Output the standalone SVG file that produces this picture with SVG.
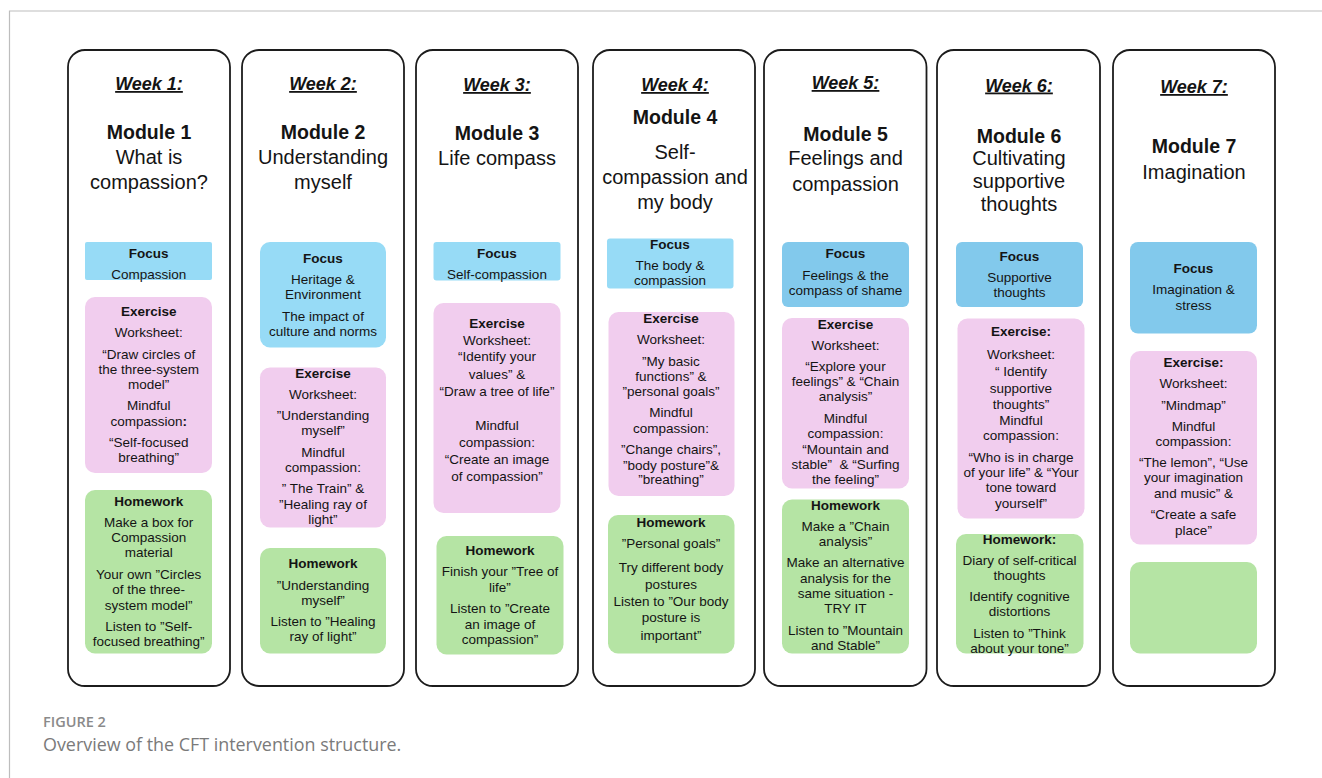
<svg xmlns="http://www.w3.org/2000/svg" width="1322" height="778" viewBox="0 0 1322 778">
  <style>
    text { font-family: "Liberation Sans", Arial, sans-serif; fill: #141414; text-anchor: middle; }
    .col { fill: #fff; stroke: #1c1c1c; stroke-width: 1.8; }
    .focus { fill: #97dbf6; }
    .focus2 { fill: #82c9ec; }
    .ex { fill: #f1cdee; }
    .hw { fill: #b5e4a4; }
    .wk { font-size: 18px; font-weight: bold; font-style: italic; text-decoration: underline; }
    .mod { font-size: 19.5px; font-weight: bold; }
    .sub { font-size: 20px; }
    .hd { font-size: 13.5px; font-weight: bold; }
    .tx { font-size: 13.5px; }
    .cap1 { font-family: "Open Sans", "Liberation Sans", sans-serif; font-size: 14.5px; font-weight: 600; fill: #8a8a8a; text-anchor: start; }
    .cap2 { font-family: "Open Sans", "Liberation Sans", sans-serif; font-size: 17.9px; fill: #7a7a7a; text-anchor: start; }
    .frame { fill: none; stroke: #bdbdbd; stroke-width: 1.2; }
  </style>

  <!-- page frame -->
  <path class="frame" d="M9.5 778 V11 H1322"/>

  <!-- Week 1 -->
  <g id="week1">
    <rect class="col" x="68" y="50" width="162" height="636" rx="17"/>
    <text class="wk" x="149" y="90">Week 1:</text>
    <text class="mod" x="149" y="139">Module 1</text>
    <text class="sub" x="149" y="164">What is</text>
    <text class="sub" x="149" y="189">compassion?</text>
    <rect class="focus" x="85" y="242" width="127" height="38" rx="2"/>
    <text class="hd" x="148.7" y="258">Focus</text>
    <text class="tx" x="148.7" y="278.5">Compassion</text>
    <rect class="ex" x="85" y="297" width="127" height="176" rx="10"/>
    <text class="hd" x="148.7" y="315.5">Exercise</text>
    <text class="tx" x="148.7" y="337">Worksheet:</text>
    <text class="tx" x="148.7" y="358.5">“Draw circles of</text>
    <text class="tx" x="148.7" y="373.5">the three-system</text>
    <text class="tx" x="148.7" y="389">model”</text>
    <text class="tx" x="148.7" y="410">Mindful</text>
    <text class="tx" x="148.7" y="425.5">compassion<tspan font-weight="bold">:</tspan></text>
    <text class="tx" x="148.7" y="446.5">“Self-focused</text>
    <text class="tx" x="148.7" y="462">breathing”</text>
    <rect class="hw" x="85" y="490" width="127" height="163.5" rx="10"/>
    <text class="hd" x="148.7" y="505.5">Homework</text>
    <text class="tx" x="148.7" y="527">Make a box for</text>
    <text class="tx" x="148.7" y="542">Compassion</text>
    <text class="tx" x="148.7" y="557">material</text>
    <text class="tx" x="148.7" y="578.5">Your own ”Circles</text>
    <text class="tx" x="148.7" y="594">of the three-</text>
    <text class="tx" x="148.7" y="609.5">system model”</text>
    <text class="tx" x="148.7" y="630.5">Listen to ”Self-</text>
    <text class="tx" x="148.7" y="645.5">focused breathing”</text>
  </g>

  <!-- Week 2 -->
  <g id="week2">
    <rect class="col" x="242" y="50" width="162" height="636" rx="17"/>
    <text class="wk" x="323" y="90">Week 2:</text>
    <text class="mod" x="323" y="139">Module 2</text>
    <text class="sub" x="323" y="164">Understanding</text>
    <text class="sub" x="323" y="189">myself</text>
    <rect class="focus" x="260" y="242" width="126" height="105.5" rx="10"/>
    <text class="hd" x="323" y="263">Focus</text>
    <text class="tx" x="323" y="284">Heritage &amp;</text>
    <text class="tx" x="323" y="299">Environment</text>
    <text class="tx" x="323" y="320.5">The impact of</text>
    <text class="tx" x="323" y="335.5">culture and norms</text>
    <rect class="ex" x="260" y="367.5" width="126" height="160" rx="10"/>
    <text class="hd" x="323" y="378">Exercise</text>
    <text class="tx" x="323" y="398.5">Worksheet:</text>
    <text class="tx" x="323" y="420">”Understanding</text>
    <text class="tx" x="323" y="435">myself”</text>
    <text class="tx" x="323" y="457">Mindful</text>
    <text class="tx" x="323" y="472">compassion:</text>
    <text class="tx" x="323" y="493">” The Train” &amp;</text>
    <text class="tx" x="323" y="508.5">”Healing ray of</text>
    <text class="tx" x="323" y="524">light”</text>
    <rect class="hw" x="260" y="548" width="126" height="105.5" rx="10"/>
    <text class="hd" x="323" y="568">Homework</text>
    <text class="tx" x="323" y="589.5">”Understanding</text>
    <text class="tx" x="323" y="604.5">myself”</text>
    <text class="tx" x="323" y="626">Listen to ”Healing</text>
    <text class="tx" x="323" y="641">ray of light”</text>
  </g>

  <!-- Week 3 -->
  <g id="week3">
    <rect class="col" x="416" y="50" width="162" height="636" rx="17"/>
    <text class="wk" x="497" y="91">Week 3:</text>
    <text class="mod" x="497" y="140">Module 3</text>
    <text class="sub" x="497" y="165">Life compass</text>
    <rect class="focus" x="433.5" y="242" width="127" height="38.5" rx="3"/>
    <text class="hd" x="497" y="258">Focus</text>
    <text class="tx" x="497" y="279">Self-compassion</text>
    <rect class="ex" x="433.5" y="303" width="127" height="210" rx="10"/>
    <text class="hd" x="497" y="328">Exercise</text>
    <text class="tx" x="497" y="344.5">Worksheet:</text>
    <text class="tx" x="497" y="361">“Identify your</text>
    <text class="tx" x="497" y="378.5">values” &amp;</text>
    <text class="tx" x="497" y="395.5">“Draw a tree of life”</text>
    <text class="tx" x="497" y="429.5">Mindful</text>
    <text class="tx" x="497" y="447">compassion:</text>
    <text class="tx" x="497" y="463.5">“Create an image</text>
    <text class="tx" x="497" y="480.5">of compassion”</text>
    <rect class="hw" x="436.5" y="536" width="127" height="118.5" rx="10"/>
    <text class="hd" x="500" y="555">Homework</text>
    <text class="tx" x="500" y="576">Finish your ”Tree of</text>
    <text class="tx" x="500" y="592">life”</text>
    <text class="tx" x="500" y="613">Listen to ”Create</text>
    <text class="tx" x="500" y="628.5">an image of</text>
    <text class="tx" x="500" y="643.5">compassion”</text>
  </g>

  <!-- Week 4 -->
  <g id="week4">
    <rect class="col" x="593" y="50" width="162" height="636" rx="17"/>
    <text class="wk" x="675" y="91">Week 4:</text>
    <text class="mod" x="675" y="124">Module 4</text>
    <text class="sub" x="675" y="158.5">Self-</text>
    <text class="sub" x="675" y="183.5">compassion and</text>
    <text class="sub" x="675" y="209">my body</text>
    <rect class="focus" x="607" y="238.5" width="126.5" height="50" rx="3"/>
    <text class="hd" x="670" y="249">Focus</text>
    <text class="tx" x="670" y="270">The body &amp;</text>
    <text class="tx" x="670" y="284.5">compassion</text>
    <rect class="ex" x="608.5" y="312" width="126" height="184" rx="10"/>
    <text class="hd" x="671" y="323">Exercise</text>
    <text class="tx" x="671" y="344">Worksheet:</text>
    <text class="tx" x="671" y="365.5">”My basic</text>
    <text class="tx" x="671" y="380.5">functions” &amp;</text>
    <text class="tx" x="671" y="396">”personal goals”</text>
    <text class="tx" x="671" y="417">Mindful</text>
    <text class="tx" x="671" y="433">compassion:</text>
    <text class="tx" x="671" y="454">”Change chairs”,</text>
    <text class="tx" x="671" y="469.5">”body posture”&amp;</text>
    <text class="tx" x="671" y="484">”breathing”</text>
    <rect class="hw" x="608" y="515" width="126.5" height="138.5" rx="10"/>
    <text class="hd" x="671" y="527">Homework</text>
    <text class="tx" x="671" y="548">”Personal goals”</text>
    <text class="tx" x="671" y="572">Try different body</text>
    <text class="tx" x="671" y="588.5">postures</text>
    <text class="tx" x="671" y="605.5">Listen to ”Our body</text>
    <text class="tx" x="671" y="622">posture is</text>
    <text class="tx" x="671" y="639.5">important”</text>
  </g>

  <!-- Week 5 -->
  <g id="week5">
    <rect class="col" x="764" y="50" width="162.5" height="636" rx="17"/>
    <text class="wk" x="845.5" y="89">Week 5:</text>
    <text class="mod" x="845.5" y="140.5">Module 5</text>
    <text class="sub" x="845.5" y="165">Feelings and</text>
    <text class="sub" x="845.5" y="190.5">compassion</text>
    <rect class="focus2" x="782" y="242" width="127" height="65" rx="6"/>
    <text class="hd" x="845.5" y="258">Focus</text>
    <text class="tx" x="845.5" y="279.5">Feelings &amp; the</text>
    <text class="tx" x="845.5" y="294.5">compass of shame</text>
    <rect class="ex" x="782" y="318" width="127" height="170.5" rx="10"/>
    <text class="hd" x="845.5" y="328.5">Exercise</text>
    <text class="tx" x="845.5" y="349.5">Worksheet:</text>
    <text class="tx" x="845.5" y="371">“Explore your</text>
    <text class="tx" x="845.5" y="386">feelings” &amp; “Chain</text>
    <text class="tx" x="845.5" y="401">analysis”</text>
    <text class="tx" x="845.5" y="423">Mindful</text>
    <text class="tx" x="845.5" y="438">compassion:</text>
    <text class="tx" x="845.5" y="453.5">“Mountain and</text>
    <text class="tx" x="845.5" y="468.5" xml:space="preserve">stable”  &amp; “Surfing</text>
    <text class="tx" x="845.5" y="483.5">the feeling”</text>
    <rect class="hw" x="782" y="499.5" width="127" height="154" rx="10"/>
    <text class="hd" x="845.5" y="509.5">Homework</text>
    <text class="tx" x="845.5" y="530.5">Make a ”Chain</text>
    <text class="tx" x="845.5" y="546">analysis”</text>
    <text class="tx" x="845.5" y="567">Make an alternative</text>
    <text class="tx" x="845.5" y="583">analysis for the</text>
    <text class="tx" x="845.5" y="598">same situation -</text>
    <text class="tx" x="845.5" y="613">TRY IT</text>
    <text class="tx" x="845.5" y="634.5">Listen to ”Mountain</text>
    <text class="tx" x="845.5" y="649.5">and Stable”</text>
  </g>

  <!-- Week 6 -->
  <g id="week6">
    <rect class="col" x="937" y="50" width="163" height="636" rx="17"/>
    <text class="wk" x="1019" y="91.5">Week 6:</text>
    <text class="mod" x="1019" y="142.5">Module 6</text>
    <text class="sub" x="1019" y="165">Cultivating</text>
    <text class="sub" x="1019" y="188">supportive</text>
    <text class="sub" x="1019" y="211">thoughts</text>
    <rect class="focus2" x="956" y="242" width="127" height="65" rx="6"/>
    <text class="hd" x="1019.5" y="260.5">Focus</text>
    <text class="tx" x="1019.5" y="282">Supportive</text>
    <text class="tx" x="1019.5" y="297">thoughts</text>
    <rect class="ex" x="957.5" y="318.5" width="127" height="200" rx="10"/>
    <text class="hd" x="1021" y="335.5">Exercise:</text>
    <text class="tx" x="1021" y="358.5">Worksheet:</text>
    <text class="tx" x="1021" y="375.5">“ Identify</text>
    <text class="tx" x="1021" y="393">supportive</text>
    <text class="tx" x="1021" y="409">thoughts”</text>
    <text class="tx" x="1021" y="424.5">Mindful</text>
    <text class="tx" x="1021" y="440">compassion:</text>
    <text class="tx" x="1021" y="462">“Who is in charge</text>
    <text class="tx" x="1021" y="477">of your life” &amp; “Your</text>
    <text class="tx" x="1021" y="492">tone toward</text>
    <text class="tx" x="1021" y="508">yourself”</text>
    <rect class="hw" x="956" y="534" width="127.5" height="119.5" rx="10"/>
    <text class="hd" x="1019.5" y="543.5">Homework:</text>
    <text class="tx" x="1019.5" y="564.5">Diary of self-critical</text>
    <text class="tx" x="1019.5" y="579.5">thoughts</text>
    <text class="tx" x="1019.5" y="601">Identify cognitive</text>
    <text class="tx" x="1019.5" y="616">distortions</text>
    <text class="tx" x="1019.5" y="638">Listen to ”Think</text>
    <text class="tx" x="1019.5" y="653">about your tone”</text>
  </g>

  <!-- Week 7 -->
  <g id="week7">
    <rect class="col" x="1113" y="50" width="162" height="636" rx="17"/>
    <text class="wk" x="1194" y="93">Week 7:</text>
    <text class="mod" x="1194" y="153">Module 7</text>
    <text class="sub" x="1194" y="178.5">Imagination</text>
    <rect class="focus2" x="1130" y="242" width="127" height="91.5" rx="8"/>
    <text class="hd" x="1193.5" y="273">Focus</text>
    <text class="tx" x="1193.5" y="294">Imagination &amp;</text>
    <text class="tx" x="1193.5" y="309.5">stress</text>
    <rect class="ex" x="1130" y="351" width="127" height="193.5" rx="10"/>
    <text class="hd" x="1193.5" y="367">Exercise:</text>
    <text class="tx" x="1193.5" y="388">Worksheet:</text>
    <text class="tx" x="1193.5" y="409.5">”Mindmap”</text>
    <text class="tx" x="1193.5" y="431">Mindful</text>
    <text class="tx" x="1193.5" y="446">compassion:</text>
    <text class="tx" x="1193.5" y="467">“The lemon”, “Use</text>
    <text class="tx" x="1193.5" y="482">your imagination</text>
    <text class="tx" x="1193.5" y="498">and music” &amp;</text>
    <text class="tx" x="1193.5" y="519">“Create a safe</text>
    <text class="tx" x="1193.5" y="534.5">place”</text>
    <rect class="hw" x="1130" y="562" width="127" height="91.5" rx="10"/>
  </g>

  <!-- caption -->
  <g id="caption">
    <text class="cap1" x="43" y="727">FIGURE 2</text>
    <text class="cap2" x="43" y="750.5">Overview of the CFT intervention structure.</text>
  </g>
</svg>
